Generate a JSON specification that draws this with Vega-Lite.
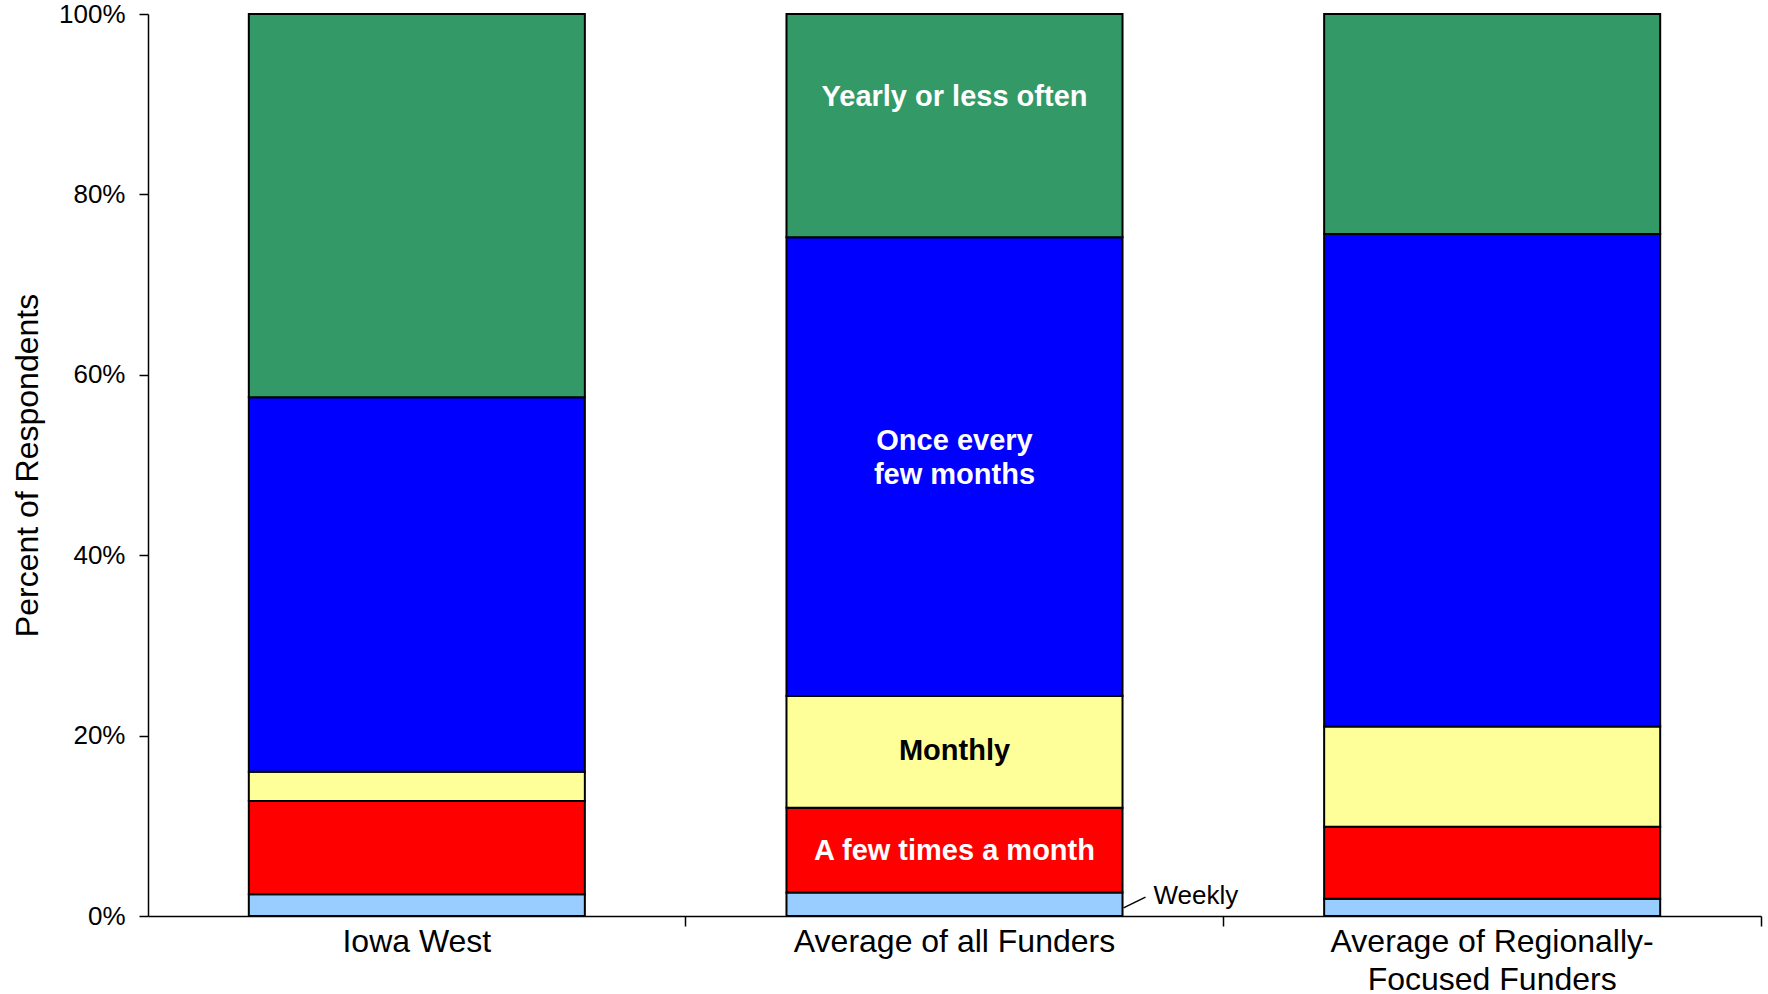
{
  "$schema": "https://vega.github.io/schema/vega-lite/v6.json",
  "width": 1613,
  "height": 902,
  "autosize": "none",
  "padding": {"left": 148, "top": 14, "right": 7, "bottom": 78},
  "background": "white",
  "config": {
    "view": {"stroke": null},
    "font": "Liberation Sans",
    "axis": {"domainColor": "black", "tickColor": "black", "labelColor": "black", "titleColor": "black", "grid": false, "domainWidth": 1.5, "tickWidth": 1.5}
  },
  "datasets": {
    "freq": [
      {"funder": "Iowa West", "freq": "Weekly", "rank": 1, "pct": 2.4},
      {"funder": "Iowa West", "freq": "A few times a month", "rank": 2, "pct": 10.35},
      {"funder": "Iowa West", "freq": "Monthly", "rank": 3, "pct": 3.25},
      {"funder": "Iowa West", "freq": "Once every few months", "rank": 4, "pct": 41.5},
      {"funder": "Iowa West", "freq": "Yearly or less often", "rank": 5, "pct": 42.5},
      {"funder": "Average of all Funders", "freq": "Weekly", "rank": 1, "pct": 2.6},
      {"funder": "Average of all Funders", "freq": "A few times a month", "rank": 2, "pct": 9.4},
      {"funder": "Average of all Funders", "freq": "Monthly", "rank": 3, "pct": 12.4},
      {"funder": "Average of all Funders", "freq": "Once every few months", "rank": 4, "pct": 50.85},
      {"funder": "Average of all Funders", "freq": "Yearly or less often", "rank": 5, "pct": 24.75},
      {"funder": "Average of Regionally-Focused Funders", "freq": "Weekly", "rank": 1, "pct": 1.9},
      {"funder": "Average of Regionally-Focused Funders", "freq": "A few times a month", "rank": 2, "pct": 8.0},
      {"funder": "Average of Regionally-Focused Funders", "freq": "Monthly", "rank": 3, "pct": 11.1},
      {"funder": "Average of Regionally-Focused Funders", "freq": "Once every few months", "rank": 4, "pct": 54.6},
      {"funder": "Average of Regionally-Focused Funders", "freq": "Yearly or less often", "rank": 5, "pct": 24.4}
    ],
    "labels": [
      {"funder": "Average of all Funders", "label": "Yearly or less often", "pos": 90.75},
      {"funder": "Average of all Funders", "label": "Once every\nfew months", "pos": 52.65},
      {"funder": "Average of all Funders", "label": "Monthly", "pos": 18.25},
      {"funder": "Average of all Funders", "label": "A few times a month", "pos": 7.25}
    ],
    "notes": [
      {"funder": "Average of all Funders", "label": "Weekly", "pos": 2.25}
    ],
    "leader": [
      {"funder": "Average of all Funders", "y": 0.9, "y2": 2.1}
    ]
  },
  "layer": [
    {
      "data": {"name": "freq"},
      "mark": {"type": "bar", "stroke": "black", "strokeWidth": 2},
      "encoding": {
        "x": {
          "field": "funder", "type": "nominal",
          "sort": ["Iowa West", "Average of all Funders", "Average of Regionally-Focused Funders"],
          "scale": {"paddingInner": 0.375, "paddingOuter": 0.1875},
          "axis": {
            "title": null, "labelAngle": 0, "labelFontSize": 32, "labelPadding": 0, "tickSize": 10, "labelLimit": 0,
            "bandPosition": 1.3, "labelLineHeight": 38, "labelBaseline": "top",
            "labelExpr": "datum.label == 'Average of Regionally-Focused Funders' ? ['Average of Regionally-', 'Focused Funders'] : datum.label"
          }
        },
        "y": {
          "field": "pct", "type": "quantitative", "stack": "zero",
          "scale": {"domain": [0, 100], "nice": false},
          "axis": {
            "title": "Percent of Respondents", "titleFontSize": 32, "titleFontWeight": "normal",
            "titleX": -121, "titleY": 451, "titleAngle": -90, "titleBaseline": "middle", "titleAlign": "center",
            "values": [0, 20, 40, 60, 80, 100], "labelExpr": "datum.value + '%'",
            "labelFontSize": 26, "labelPadding": 14, "tickSize": 9, "labelFlush": false, "labelOverlap": false
          }
        },
        "color": {
          "field": "freq", "type": "nominal",
          "scale": {
            "domain": ["Weekly", "A few times a month", "Monthly", "Once every few months", "Yearly or less often"],
            "range": ["#99CCFF", "#FF0000", "#FFFF99", "#0000FF", "#339966"]
          },
          "legend": null
        },
        "order": {"field": "rank", "type": "quantitative"}
      }
    },
    {
      "data": {"name": "labels"},
      "mark": {"type": "text", "fontWeight": "bold", "fontSize": 29, "lineBreak": "\n", "lineHeight": 34, "align": "center", "baseline": "middle"},
      "encoding": {
        "x": {"field": "funder", "type": "nominal", "sort": ["Iowa West", "Average of all Funders", "Average of Regionally-Focused Funders"]},
        "y": {"field": "pos", "type": "quantitative"},
        "text": {"field": "label"},
        "color": {"condition": {"test": "datum.label === 'Monthly'", "value": "black"}, "value": "white"}
      }
    },
    {
      "data": {"name": "notes"},
      "mark": {"type": "text", "fontSize": 26, "align": "left", "baseline": "middle", "dx": 199, "color": "black"},
      "encoding": {
        "x": {"field": "funder", "type": "nominal", "sort": ["Iowa West", "Average of all Funders", "Average of Regionally-Focused Funders"]},
        "y": {"field": "pos", "type": "quantitative"},
        "text": {"field": "label"}
      }
    },
    {
      "data": {"name": "leader"},
      "mark": {"type": "rule", "color": "black", "strokeWidth": 1.5, "xOffset": 169, "x2Offset": 191},
      "encoding": {
        "x": {"field": "funder", "type": "nominal", "sort": ["Iowa West", "Average of all Funders", "Average of Regionally-Focused Funders"]},
        "x2": {"field": "funder"},
        "y": {"field": "y", "type": "quantitative"},
        "y2": {"field": "y2"}
      }
    }
  ]
}
